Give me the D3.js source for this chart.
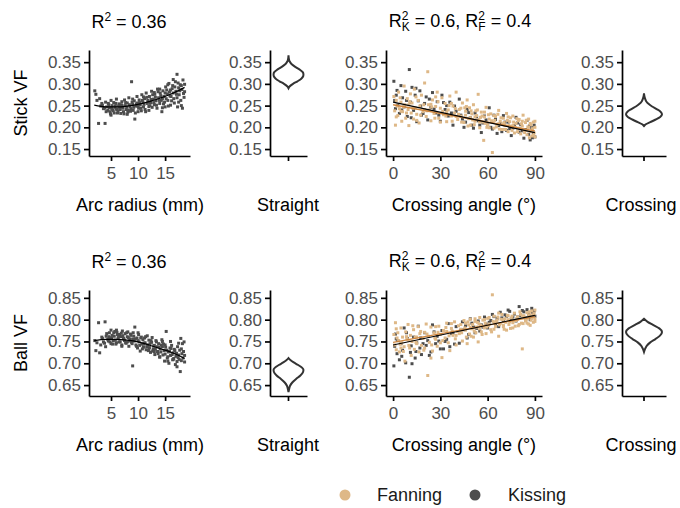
<!DOCTYPE html>
<html><head><meta charset="utf-8">
<script src="https://cdn.jsdelivr.net/npm/d3@7"></script>
<style>body{margin:0;background:#fff}svg{display:block}text{font-family:"Liberation Sans",Arial,Helvetica,sans-serif}</style>
</head><body><svg id="c" width="680" height="508"></svg>
<script>
// ---------- data ----------
const arcRadius = [2.0,2.2,2.4,2.7,2.9,3.1,3.3,3.6,3.9,4.0,4.2,4.4,4.6,4.8,5.0,5.1,5.3,5.5,5.6,5.8,6.0,6.1,6.3,6.5,6.6,6.8,7.0,7.1,7.3,7.5,7.6,7.8,8.0,8.1,8.3,8.5,8.7,8.8,9.0,9.1,9.3,9.4,9.6,9.8,9.9,10.1,10.2,10.4,10.6,10.7,10.9,11.0,11.2,11.3,11.5,11.7,11.8,12.0,12.1,12.3,12.5,12.6,12.8,13.0,13.1,13.3,13.5,13.6,13.8,14.0,14.1,14.3,14.4,14.6,14.8,14.9,15.1,15.2,15.4,15.6,15.7,15.9,16.0,16.2,16.4,16.5,16.7,16.9,17.0,17.2,17.3,17.5,17.6,17.8,17.9,18.1,18.2,18.3,18.5,18.6,
  3.4,3.8,4.1,4.5,4.7,4.9,5.2,5.4,5.7,5.9,6.2,6.4,6.7,6.9,7.2,7.4,7.7,7.9,8.2,8.4,8.6,8.9,9.2,9.5,9.7,10.0,10.3,10.5,10.8,11.1,11.4,11.6,11.9,12.2,12.4,12.7,12.9,13.2,13.4,13.7,13.9,14.2,14.5,14.7,15.0,15.3,15.5,15.8,16.1,16.3,16.6,16.8,17.1,17.4,17.7,18.0,18.4,15.0,16.0,17.5,14.0,13.0,12.0,11.0,10.0,9.0,8.0,7.0,6.0,5.0,16.5,17.2,18.6,18.0,15.5,14.5];
const arcStickVF = [0.284,0.276,0.262,0.209,0.266,0.249,0.255,0.243,0.209,0.258,0.247,0.239,0.252,0.236,0.262,0.244,0.240,0.257,0.233,0.249,0.265,0.241,0.238,0.254,0.245,0.232,0.259,0.247,0.236,0.263,0.250,0.241,0.256,0.235,0.268,0.248,0.243,0.305,0.253,0.239,0.261,0.219,0.249,0.271,0.256,0.244,0.263,0.252,0.238,0.275,0.258,0.247,0.266,0.241,0.279,0.255,0.262,0.248,0.271,0.257,0.283,0.246,0.265,0.252,0.276,0.261,0.244,0.288,0.268,0.255,0.279,0.262,0.236,0.284,0.271,0.258,0.293,0.266,0.277,0.249,0.301,0.272,0.286,0.261,0.296,0.279,0.256,0.305,0.283,0.322,0.247,0.291,0.275,0.298,0.262,0.287,0.244,0.309,0.269,0.282,
  0.251,0.244,0.236,0.255,0.245,0.231,0.250,0.238,0.246,0.255,0.233,0.249,0.241,0.252,0.244,0.231,0.257,0.247,0.240,0.252,0.237,0.258,0.246,0.233,0.254,0.248,0.257,0.244,0.262,0.253,0.236,0.269,0.258,0.250,0.264,0.275,0.257,0.269,0.251,0.282,0.262,0.273,0.266,0.254,0.279,0.286,0.262,0.281,0.271,0.289,0.266,0.293,0.276,0.302,0.284,0.296,0.278,0.247,0.251,0.258,0.288,0.280,0.239,0.270,0.236,0.265,0.230,0.250,0.242,0.228,0.310,0.268,0.299,0.250,0.298,0.245];
const arcBallVF = [0.752,0.729,0.747,0.793,0.724,0.742,0.760,0.749,0.795,0.738,0.768,0.755,0.761,0.749,0.776,0.758,0.744,0.770,0.762,0.753,0.747,0.771,0.758,0.749,0.766,0.761,0.742,0.774,0.757,0.752,0.768,0.746,0.761,0.772,0.739,0.756,0.764,0.748,0.694,0.770,0.751,0.783,0.742,0.758,0.735,0.766,0.749,0.728,0.760,0.744,0.754,0.737,0.758,0.747,0.731,0.763,0.742,0.753,0.736,0.725,0.748,0.759,0.733,0.741,0.720,0.752,0.738,0.727,0.745,0.714,0.733,0.742,0.754,0.719,0.729,0.705,0.737,0.773,0.712,0.726,0.700,0.735,0.718,0.741,0.708,0.724,0.732,0.697,0.716,0.704,0.738,0.719,0.709,0.681,0.757,0.722,0.745,0.712,0.749,0.703,
  0.757,0.746,0.762,0.751,0.770,0.758,0.764,0.752,0.773,0.744,0.766,0.760,0.749,0.769,0.763,0.755,0.747,0.770,0.759,0.751,0.767,0.745,0.762,0.756,0.739,0.752,0.741,0.758,0.733,0.746,0.761,0.738,0.729,0.745,0.752,0.728,0.740,0.733,0.749,0.722,0.737,0.726,0.738,0.744,0.721,0.730,0.715,0.727,0.734,0.720,0.711,0.729,0.723,0.713,0.730,0.706,0.727,0.742,0.750,0.746,0.715,0.727,0.731,0.744,0.770,0.755,0.749,0.739,0.776,0.745,0.709,0.692,0.718,0.733,0.705,0.750];
const arcFitRadius = [1.9,4,6,8,10,12,14,16,18,18.6];
const arcFitStick = [0.251,0.247,0.247,0.249,0.253,0.259,0.267,0.276,0.288,0.292];
const arcFitBall = [0.752,0.755,0.755,0.753,0.749,0.742,0.734,0.726,0.715,0.711];

const fanAngle = [0.5,1,1.5,2,2.5,3,3.5,4,5,5.5,6,7,7.5,8,9,9.5,10,11,11.5,12,13,13.5,14,15,16,16.5,17,18,19,20,21,22,22.5,23,24,25,26,27,28,29,30,31,32,33,34,35,36,37,38,39,40,41,42,43,44,45,46,47,48,48.5,49,50,51,52,53,54,54.5,55,56,57,57.5,58,59,60,61,62,63,63.5,64,65,66,67,68,69,70,71,72,73,74,75,76,77,78,79,80,81,82,82.5,83,84,85,85.5,86,87,87.5,88,88.5,89,89.5,90,90,86.5,79.5,74.5,69.5,64.5,59.5,55.5,52.5,46.5,
  2,4.5,6.5,8.5,10.5,12.5,14.5,17.5,19.5,21.5,24.5,26.5,28.5,31.5,33.5,35.5,37.5,39.5,41.5,43.5,45.5,47.5,49.5,50.5,51.5,53.5,56.5,58.5,60.5,62.5,65.5,66.5,67.5,68.5,70.5,71.5,72.5,73.5,75.5,76.5,77.5,78.5,80.5,81.5,83.5,84.5,86,87,88,89,90,85,82,79,76,73,70,67,64,61,58,55,52,49,46,43,40,37,34,30,27,24,20,15,10,5];
const fanStickVF = [0.271,0.238,0.205,0.262,0.249,0.227,0.281,0.243,0.258,0.214,0.236,0.295,0.252,0.221,0.266,0.241,0.204,0.277,0.233,0.256,0.219,0.288,0.245,0.230,0.262,0.210,0.249,0.274,0.236,0.302,0.225,0.328,0.252,0.240,0.215,0.263,0.232,0.248,0.281,0.221,0.244,0.268,0.229,0.255,0.213,0.240,0.272,0.226,0.249,0.233,0.281,0.218,0.241,0.226,0.256,0.211,0.237,0.263,0.220,0.245,0.205,0.231,0.252,0.214,0.227,0.276,0.218,0.199,0.235,0.212,0.170,0.224,0.246,0.206,0.219,0.231,0.142,0.211,0.198,0.225,0.207,0.239,0.214,0.195,0.221,0.204,0.232,0.190,0.213,0.202,0.226,0.187,0.209,0.198,0.218,0.185,0.203,0.228,0.194,0.211,0.183,0.201,0.219,0.190,0.206,0.180,0.197,0.212,0.187,0.200,0.178,0.176,0.215,0.222,0.208,0.216,0.200,0.223,0.238,0.248,
  0.224,0.268,0.247,0.233,0.259,0.244,0.270,0.228,0.252,0.238,0.247,0.221,0.259,0.237,0.226,0.250,0.214,0.243,0.230,0.212,0.245,0.203,0.238,0.217,0.206,0.240,0.226,0.209,0.229,0.215,0.201,0.230,0.196,0.222,0.211,0.195,0.216,0.204,0.193,0.212,0.200,0.220,0.197,0.208,0.188,0.216,0.200,0.209,0.193,0.182,0.214,0.193,0.214,0.190,0.204,0.224,0.195,0.208,0.227,0.199,0.235,0.212,0.224,0.222,0.228,0.244,0.225,0.255,0.235,0.212,0.270,0.253,0.241,0.216,0.252,0.237];
const fanBallVF = [0.766,0.742,0.793,0.731,0.758,0.770,0.752,0.726,0.781,0.747,0.760,0.738,0.705,0.772,0.755,0.789,0.741,0.764,0.718,0.750,0.777,0.732,0.760,0.745,0.784,0.726,0.768,0.741,0.757,0.735,0.790,0.672,0.762,0.748,0.783,0.728,0.770,0.755,0.739,0.785,0.766,0.713,0.775,0.758,0.792,0.747,0.729,0.780,0.764,0.795,0.742,0.773,0.768,0.789,0.751,0.798,0.776,0.745,0.788,0.767,0.801,0.779,0.760,0.796,0.783,0.749,0.790,0.805,0.772,0.799,0.785,0.781,0.768,0.803,0.790,0.777,0.857,0.796,0.808,0.784,0.799,0.762,0.791,0.812,0.787,0.802,0.776,0.809,0.795,0.804,0.781,0.815,0.798,0.806,0.789,0.812,0.733,0.791,0.809,0.797,0.816,0.803,0.790,0.811,0.799,0.820,0.806,0.794,0.814,0.802,0.822,0.818,0.786,0.780,0.800,0.793,0.783,0.787,0.770,0.760,
  0.779,0.744,0.727,0.761,0.735,0.786,0.748,0.773,0.730,0.767,0.742,0.758,0.771,0.752,0.782,0.763,0.774,0.756,0.786,0.770,0.781,0.795,0.762,0.789,0.774,0.794,0.766,0.792,0.787,0.772,0.796,0.806,0.788,0.801,0.778,0.794,0.810,0.789,0.808,0.797,0.785,0.803,0.818,0.792,0.805,0.799,0.810,0.787,0.803,0.811,0.796,0.792,0.808,0.801,0.793,0.800,0.784,0.815,0.778,0.805,0.800,0.779,0.802,0.782,0.792,0.778,0.764,0.791,0.773,0.747,0.784,0.712,0.771,0.760,0.752,0.735];

const kissAngle = [0.5,1,1.5,2.5,3,4,5,6,7,8,9,10.3,11,12,13,14,15,16,17,18,20,21,22,24,25,27,28,30,31,33,35,36,38,40,42,44,45,47,49,51,52,54,56,58,60,61,63,65,66,68,70,72,73,75,77,78,80,81,83,84,85,86,87,88,89,90,89.5,76,57,34,
  2,5.5,8.5,11.5,14.5,17.5,19,23,26,29,32,37,39,43,46,48,50,53,55,59,62,64,67,69,71,74,79,82,86.5,88.5];
const kissStickVF = [0.306,0.262,0.243,0.285,0.251,0.232,0.296,0.268,0.247,0.283,0.225,0.333,0.258,0.292,0.239,0.274,0.213,0.261,0.284,0.228,0.255,0.270,0.217,0.246,0.280,0.233,0.259,0.214,0.274,0.241,0.226,0.258,0.205,0.237,0.265,0.219,0.200,0.241,0.222,0.198,0.233,0.215,0.188,0.226,0.207,0.245,0.196,0.218,0.186,0.209,0.227,0.193,0.212,0.181,0.204,0.223,0.189,0.206,0.175,0.195,0.216,0.184,0.171,0.199,0.187,0.178,0.205,0.198,0.210,0.250,
  0.274,0.240,0.262,0.222,0.290,0.249,0.232,0.265,0.242,0.228,0.257,0.233,0.249,0.228,0.212,0.234,0.205,0.224,0.205,0.217,0.200,0.228,0.204,0.190,0.212,0.197,0.210,0.192,0.203,0.176];
const kissBallVF = [0.694,0.739,0.767,0.722,0.752,0.708,0.745,0.730,0.781,0.701,0.757,0.668,0.725,0.699,0.760,0.712,0.747,0.785,0.735,0.720,0.770,0.741,0.752,0.726,0.788,0.745,0.762,0.733,0.775,0.750,0.791,0.738,0.769,0.784,0.746,0.795,0.777,0.758,0.802,0.783,0.770,0.797,0.788,0.806,0.781,0.794,0.812,0.790,0.803,0.817,0.796,0.808,0.822,0.801,0.813,0.797,0.830,0.809,0.818,0.804,0.823,0.812,0.800,0.826,0.815,0.808,0.820,0.806,0.783,0.755,
  0.756,0.716,0.770,0.740,0.727,0.758,0.745,0.718,0.772,0.751,0.733,0.768,0.744,0.776,0.786,0.766,0.792,0.780,0.774,0.790,0.798,0.807,0.784,0.804,0.811,0.819,0.806,0.821,0.806,0.817];

const fitAngle = [0, 90];
const fanFitStick = [0.252, 0.192];
const kissFitStick = [0.258, 0.188];
const fanFitBall = [0.748, 0.807];
const kissFitBall = [0.742, 0.810];

// violin densities (relative widths)
const straightStickVF = [0.290,0.294,0.300,0.306,0.312,0.318,0.322,0.327,0.332,0.337,0.342,0.347,0.352,0.358,0.366];
const straightStickDen = [0,0.06,0.25,0.50,0.71,0.82,0.83,0.79,0.65,0.46,0.28,0.14,0.06,0.02,0];
const crossStickVF = [0.203,0.207,0.212,0.218,0.224,0.230,0.236,0.242,0.248,0.254,0.260,0.266,0.272,0.278];
const crossStickDen = [0,0.10,0.35,0.65,0.90,1.0,0.92,0.70,0.45,0.25,0.12,0.06,0.02,0];
const straightBallVF = [0.634,0.640,0.648,0.656,0.664,0.672,0.680,0.685,0.690,0.696,0.702,0.707,0.712];
const straightBallDen = [0,0.03,0.08,0.21,0.42,0.66,0.81,0.83,0.75,0.54,0.29,0.12,0];
const crossBallVF = [0.726,0.732,0.740,0.748,0.756,0.764,0.772,0.780,0.788,0.795,0.802];
const crossBallDen = [0,0.05,0.15,0.35,0.65,0.90,1.0,0.85,0.50,0.20,0];

const stickTicks = [0.15,0.20,0.25,0.30,0.35];
const ballTicks = [0.65,0.70,0.75,0.80,0.85];
const arcTicks = [5,10,15];
const angleTicks = [0,30,60,90];
const seriesNames = ["Fanning","Kissing"];
const seriesColors = ["#deb887","#4d4d4d"];
const fitColors = ["#cd853f","#000000"];
const rowLabels = ["Stick VF","Ball VF"];
const violinGroups = ["Straight","Crossing"];

// ---------- layout ----------
const svg = d3.select("#c");
const FONT = "Liberation Sans, Arial, Helvetica, sans-serif";
const rows = [
  {top:50, domain:[0.134,0.378], ticks:stickTicks, arcY:arcStickVF, arcFit:arcFitStick,
   fanY:fanStickVF, kissY:kissStickVF, fanFit:fanFitStick, kissFit:kissFitStick,
   vio:[[straightStickVF,straightStickDen],[crossStickVF,crossStickDen]]},
  {top:290, domain:[0.625,0.868], ticks:ballTicks, arcY:arcBallVF, arcFit:arcFitBall,
   fanY:fanBallVF, kissY:kissBallVF, fanFit:fanFitBall, kissFit:kissFitBall,
   vio:[[straightBallVF,straightBallDen],[crossBallVF,crossBallDen]]}
];
const H = 106;
const cols = {arc:[89,190], str:[270,307], cross:[386,542], cr:[622,666]};

function styleAxis(g){
  g.attr("font-family", FONT).attr("font-size", 17);
  g.select(".domain").attr("stroke","#000").attr("stroke-width",1.7);
  g.selectAll(".tick line").attr("stroke","#000").attr("stroke-width",1.7);
  g.selectAll(".tick text").attr("fill","#4d4d4d");
}
function yAxis(y, x0, ticks){
  svg.append("g").attr("transform",`translate(${x0},0)`)
    .call(d3.axisLeft(y).tickValues(ticks).tickFormat(d3.format(".2f")).tickSize(5).tickSizeOuter(0).tickPadding(3))
    .call(styleAxis);
}
function xAxis(x, yb, ticks, fmt){
  svg.append("g").attr("transform",`translate(0,${yb})`)
    .call(d3.axisBottom(x).tickValues(ticks).tickFormat(fmt).tickSize(5).tickSizeOuter(0).tickPadding(6))
    .call(styleAxis);
}
function label(txt, x, y, opts={}){
  const t = svg.append("text").attr("x",x).attr("y",y).attr("text-anchor","middle")
    .attr("font-family",FONT).attr("font-size",opts.size||18).attr("fill",opts.fill||"#000").text(txt);
  if(opts.rotate) t.attr("transform",`rotate(-90,${x},${y})`);
  return t;
}
const SQ = 3;
function squares(xs, ys, x, y, color){
  svg.append("g").selectAll("rect").data(xs.map((d,i)=>[d,ys[i]])).join("rect")
    .attr("x",d=>x(d[0])-SQ/2).attr("y",d=>y(d[1])-SQ/2).attr("width",SQ).attr("height",SQ)
    .attr("fill",color);
}

rows.forEach((r, ri) => {
  const bottom = r.top + H;
  const y = d3.scaleLinear().domain(r.domain).range([bottom, r.top]);

  // ----- arc radius panel -----
  const xArc = d3.scaleLinear().domain([0.93,19.6]).range(cols.arc);
  squares(arcRadius, r.arcY, xArc, y, "#4d4d4d");
  svg.append("path").datum(arcFitRadius.map((d,i)=>[d,r.arcFit[i]]))
    .attr("d", d3.line().x(d=>xArc(d[0])).y(d=>y(d[1])).curve(d3.curveMonotoneX))
    .attr("fill","none").attr("stroke","#000").attr("stroke-width",1.2);
  yAxis(y, cols.arc[0], r.ticks);
  xAxis(xArc, bottom, arcTicks, d3.format("d"));
  label(rowLabels[ri], 27, (r.top+bottom)/2, {rotate:true});
  label("Arc radius (mm)", 140, bottom+55);
  const t1 = svg.append("text").attr("x",129).attr("y",r.top-22).attr("text-anchor","middle")
    .attr("font-family",FONT).attr("font-size",18);
  t1.append("tspan").text("R");
  t1.append("tspan").attr("dy",-7).attr("font-size",12).text("2");
  t1.append("tspan").attr("dy",7).text(" = 0.36");

  // ----- violin panels -----
  const w = d3.scaleLinear().domain([0,1]).range([0,18]);
  [[cols.str,0],[cols.cr,1]].forEach(([c,vi])=>{
    const xb = d3.scaleBand().domain([violinGroups[vi]]).range(c);
    const cx = xb(violinGroups[vi]) + xb.bandwidth()/2;
    const [vals, den] = r.vio[vi];
    svg.append("path").datum(vals.map((v,i)=>[v,den[i]]))
      .attr("d", d3.area().y(d=>y(d[0])).x0(d=>cx-w(d[1])).x1(d=>cx+w(d[1])).curve(d3.curveMonotoneY))
      .attr("fill","none").attr("stroke","#333").attr("stroke-width",2);
    yAxis(y, c[0], r.ticks);
    svg.append("g").attr("transform",`translate(0,${bottom})`)
      .call(d3.axisBottom(xb).tickSize(5).tickSizeOuter(0).tickFormat(""))
      .call(styleAxis);
    label(violinGroups[vi], vi===0?288:641, bottom+55);
  });

  // ----- crossing angle panel -----
  const xAng = d3.scaleLinear().domain([-4.5,94.5]).range(cols.cross);
  squares(kissAngle, r.kissY, xAng, y, seriesColors[1]);
  squares(fanAngle, r.fanY, xAng, y, seriesColors[0]);
  const ln = d3.line().x(d=>xAng(d[0])).y(d=>y(d[1]));
  svg.append("path").datum(fitAngle.map((d,i)=>[d,r.fanFit[i]])).attr("d",ln)
    .attr("fill","none").attr("stroke",fitColors[0]).attr("stroke-width",1.3);
  svg.append("path").datum(fitAngle.map((d,i)=>[d,r.kissFit[i]])).attr("d",ln)
    .attr("fill","none").attr("stroke",fitColors[1]).attr("stroke-width",1.2);
  yAxis(y, cols.cross[0], r.ticks);
  xAxis(xAng, bottom, angleTicks, d3.format("d"));
  label("Crossing angle (°)", 464, bottom+55);
  const t2 = svg.append("text").attr("x",460).attr("y",r.top-23).attr("text-anchor","middle")
    .attr("font-family",FONT).attr("font-size",18);
  t2.append("tspan").text("R");
  t2.append("tspan").attr("dy",-7).attr("font-size",12).text("2");
  t2.append("tspan").attr("dx",-6.7).attr("dy",11).attr("font-size",12).text("K");
  t2.append("tspan").attr("dy",-4).text(" = 0.6, R");
  t2.append("tspan").attr("dy",-7).attr("font-size",12).text("2");
  t2.append("tspan").attr("dx",-6.7).attr("dy",11).attr("font-size",12).text("F");
  t2.append("tspan").attr("dy",-4).text(" = 0.4");
});

// ----- legend -----
const lg = svg.append("g");
[[345,377],[475,508]].forEach(([cx,tx],i)=>{
  lg.append("circle").attr("cx",cx).attr("cy",495).attr("r",5.5).attr("fill",seriesColors[i]);
  lg.append("text").attr("x",tx).attr("y",501).attr("font-family",FONT).attr("font-size",18)
    .attr("fill","#1a1a1a").text(seriesNames[i]);
});
</script></body></html>
